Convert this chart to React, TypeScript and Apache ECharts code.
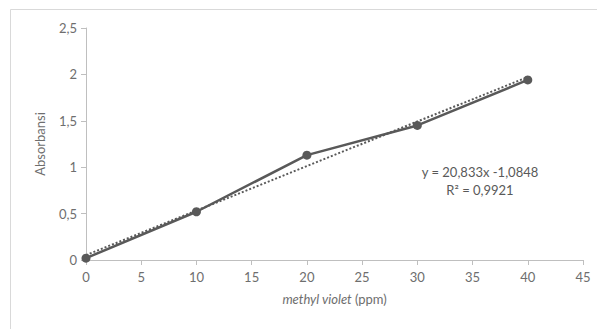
import React, { useEffect, useRef } from "react";
import * as echarts from "echarts";

const concentrations = [0, 10, 20, 30, 40];
const absorbances = [0.02, 0.52, 1.13, 1.45, 1.94];
const trendSlope = 20.833;
const trendIntercept = -1.0848;
const rSquared = "0,9921";
const trendX = [0, 40];

export default function App() {
  const ref = useRef<HTMLDivElement>(null);
  useEffect(() => {
    document.body.style.margin = "0";
    const chart = echarts.init(ref.current!, null, { renderer: "svg" });
    const fmt = (v: number) => String(v).replace(".", ",");
    const font = "Lato, 'Open Sans', sans-serif";
    const grey = "#595959";
    const labelGrey = "#6e6e6e";
    chart.setOption({
      animation: false,
      backgroundColor: "#ffffff",
      textStyle: { fontFamily: font },
      grid: { left: 86, right: 14, top: 28, bottom: 69 },
      xAxis: {
        type: "value",
        min: 0,
        max: 45,
        interval: 5,
        name: "{i|methyl violet} {n|(ppm)}",
        nameLocation: "middle",
        nameGap: 32,
        nameTextStyle: {
          rich: {
            i: { fontStyle: "italic", fontSize: 13, color: labelGrey, fontFamily: font },
            n: { fontSize: 13, color: labelGrey, fontFamily: font },
          },
        },
        axisLine: { show: true, lineStyle: { color: "#bfbfbf", width: 1 } },
        axisTick: { show: true, length: 5, lineStyle: { color: "#bfbfbf" } },
        axisLabel: { color: labelGrey, fontSize: 13, margin: 10, formatter: fmt },
        splitLine: { show: false },
      },
      yAxis: {
        type: "value",
        min: 0,
        max: 2.5,
        interval: 0.5,
        name: "Absorbansi",
        nameLocation: "middle",
        nameGap: 40,
        nameTextStyle: { fontSize: 13, color: labelGrey },
        axisLine: { show: true, lineStyle: { color: "#bfbfbf", width: 1 } },
        axisTick: { show: true, length: 5, lineStyle: { color: "#bfbfbf" } },
        axisLabel: { color: labelGrey, fontSize: 13, margin: 9, formatter: fmt },
        splitLine: { show: false },
      },
      series: [
        {
          type: "line",
          data: trendX.map((x) => [x, (x - trendIntercept) / trendSlope]),
          symbol: "none",
          lineStyle: { color: grey, width: 2, type: [2, 2] },
          z: 1,
        },
        {
          type: "line",
          data: concentrations.map((x, i) => [x, absorbances[i]]),
          symbol: "circle",
          symbolSize: 9,
          itemStyle: { color: grey },
          lineStyle: { color: grey, width: 2.5 },
          z: 2,
        },
      ],
      graphic: [
        { type: "line", shape: { x1: 10.5, y1: 9.5, x2: 597, y2: 9.5 }, style: { stroke: "#d9d9d9", lineWidth: 1 } },
        { type: "line", shape: { x1: 10.5, y1: 9.5, x2: 10.5, y2: 329 }, style: { stroke: "#d9d9d9", lineWidth: 1 } },
        {
          type: "text",
          x: 480,
          y: 172,
          style: {
            text: `y = ${String(trendSlope).replace(".", ",")}x -${String(-trendIntercept).replace(".", ",")}`,
            fill: grey,
            font: `13px ${font}`,
            align: "center",
            verticalAlign: "middle",
          },
        },
        {
          type: "text",
          x: 480,
          y: 190,
          style: {
            text: `R² = ${rSquared}`,
            fill: grey,
            font: `13px ${font}`,
            align: "center",
            verticalAlign: "middle",
          },
        },
      ],
    });
    return () => chart.dispose();
  }, []);
  return <div ref={ref} style={{ width: 597, height: 329 }} />;
}
